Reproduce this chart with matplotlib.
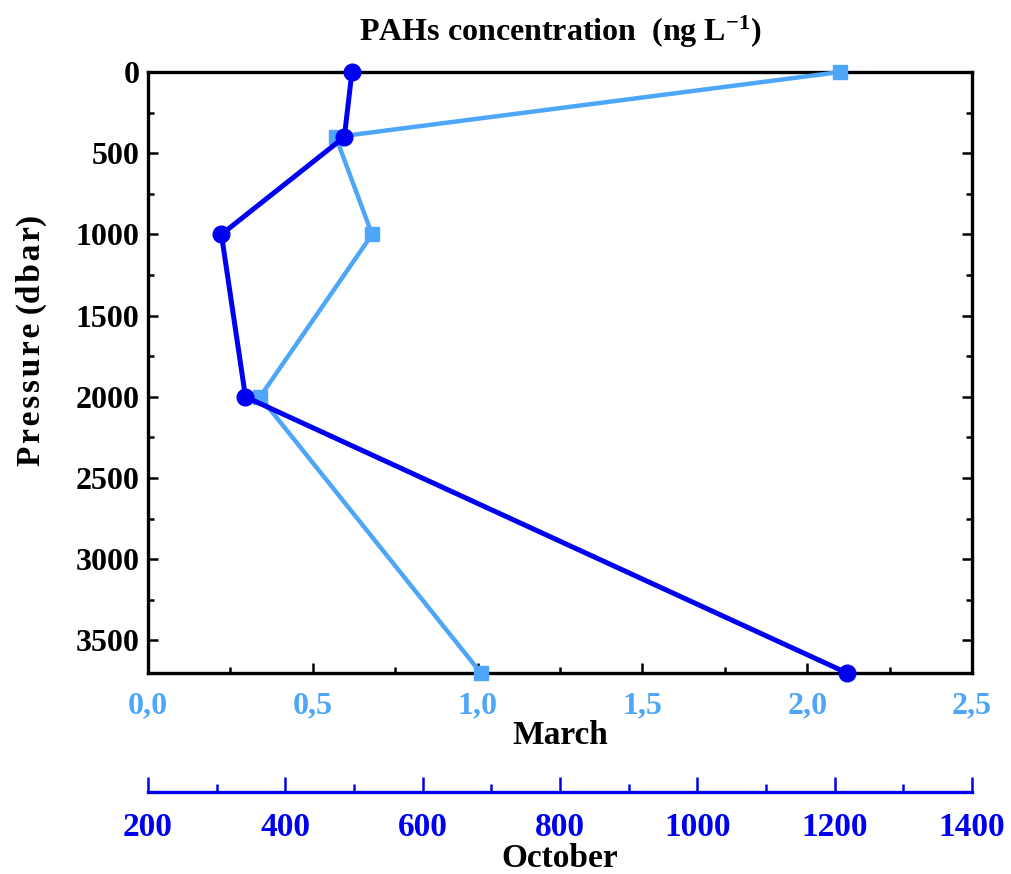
import matplotlib
matplotlib.use("Agg")
import matplotlib.pyplot as plt
from matplotlib.ticker import MultipleLocator, FuncFormatter

# Depth profile of PAHs concentration, two sampling campaigns
pressure = [0, 400, 1000, 2000, 3700]
march = [2.10, 0.57, 0.68, 0.34, 1.01]
october = [497, 486, 307, 342, 1218]

light_blue = "#4DA6F8"
dark_blue = "#0000F0"

plt.rcParams['font.family'] = ['Liberation Serif', 'DejaVu Serif']
plt.rcParams['font.weight'] = 'bold'
plt.rcParams['mathtext.fontset'] = 'custom'
plt.rcParams['mathtext.rm'] = 'Liberation Serif:bold'
plt.rcParams['mathtext.bf'] = 'Liberation Serif:bold'
plt.rcParams['mathtext.default'] = 'rm'

fig = plt.figure(figsize=(10.12, 8.74), dpi=100)
ax = fig.add_axes([0.1462, 0.230, 0.8143, 0.6876])

# March series on the main x axis
ax.plot(march, pressure, color=light_blue, lw=3.2, marker='s', ms=10.5,
        clip_on=False, zorder=3)
ax.set_xlim(0, 2.5)
ax.set_ylim(3700, 0)

ax.xaxis.set_major_locator(MultipleLocator(0.5))
ax.xaxis.set_minor_locator(MultipleLocator(0.25))
ax.yaxis.set_minor_locator(MultipleLocator(250))
ax.xaxis.set_major_formatter(FuncFormatter(lambda v, p: f"{v:.1f}".replace('.', ',')))
ax.set_yticks([0, 500, 1000, 1500, 2000, 2500, 3000, 3500])

ax.tick_params(axis='both', which='both', direction='in', top=True, right=True, width=1.8)
ax.tick_params(axis='both', which='major', length=7)
ax.tick_params(axis='both', which='minor', length=4)
ax.tick_params(axis='x', which='major', pad=13, labelsize=23, labelcolor=light_blue)
ax.tick_params(axis='y', which='major', pad=6, labelsize=23)
for s in ax.spines.values():
    s.set_linewidth(2.4)

ax.set_xlabel("March", fontsize=24, fontweight='bold', labelpad=0)
ax.set_ylabel("P\u200ar\u200ae\u200as\u200as\u200au\u200ar\u200ae (d\u200ab\u200aa\u200ar)",
              fontsize=24, fontweight='bold',
              family=['Liberation Serif', 'DejaVu Serif'])
ax.yaxis.set_label_coords(-0.123, 0.554)
ax.set_title("PAHs concentration  (ng L$^{-1}$)", fontsize=23,
             fontweight='bold', pad=22)

# October series on a second x axis drawn below the plot
ax2 = ax.twiny()
ax2.plot(october, pressure, color=dark_blue, lw=3.6, marker='o', ms=12,
         clip_on=False, zorder=4)
ax2.set_xlim(200, 1400)
ax2.xaxis.set_ticks_position('bottom')
ax2.xaxis.set_label_position('bottom')
ax2.spines['bottom'].set_position(('outward', 86))
for side in ['top', 'left', 'right']:
    ax2.spines[side].set_visible(False)
ax2.spines['bottom'].set_color(dark_blue)
ax2.spines['bottom'].set_linewidth(2.4)
ax2.xaxis.set_major_locator(MultipleLocator(200))
ax2.xaxis.set_minor_locator(MultipleLocator(100))
ax2.tick_params(axis='x', which='both', direction='in', color=dark_blue, width=1.8)
ax2.tick_params(axis='x', which='major', length=11, pad=14, labelsize=24,
                labelcolor=dark_blue)
ax2.tick_params(axis='x', which='minor', length=6)
ax2.set_xlabel("October", fontsize=24, fontweight='bold', labelpad=0)

fig.savefig("out.png", dpi=100)
